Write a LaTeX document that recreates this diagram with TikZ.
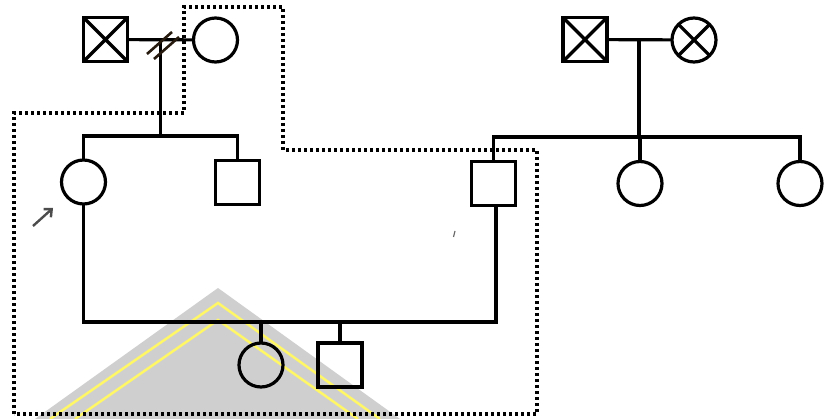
\documentclass[tikz,border=0pt]{standalone}
\usetikzlibrary{arrows.meta}
\begin{document}
\begin{tikzpicture}[x=1pt,y=-1pt,
  line/.style={line width=3.2pt, line cap=rect},
  male/.style={draw, line width=3.2pt, minimum size=44pt, inner sep=0pt},
  female/.style={draw, circle, line width=3.2pt, minimum size=44pt, inner sep=0pt},
  dead/.style={path picture={\draw[line width=3.2pt] (path picture bounding box.north west) -- (path picture bounding box.south east) (path picture bounding box.north east) -- (path picture bounding box.south west);}},
  deadc/.style={path picture={\draw[line width=3.2pt] ([shift={(-135:22.5pt)}]path picture bounding box.center) -- ([shift={(45:22.5pt)}]path picture bounding box.center) ([shift={(135:22.5pt)}]path picture bounding box.center) -- ([shift={(-45:22.5pt)}]path picture bounding box.center);}},
  dotline/.style={line width=3.2pt, dash pattern=on 3pt off 3pt},
]
\useasboundingbox (0,0) rectangle (827,419);
\fill[white] (0,0) rectangle (827,419);
% watermark
\fill[gray!38] (218,288) -- (400,419) -- (35,419) -- cycle;
\begin{scope}[yellow!60!white, line width=2.5pt]
\draw (50,419) -- (218,303) -- (380,419);
\draw (75,419) -- (218,320) -- (358,419);
\end{scope}
% generation I
\node[male,dead] (gf1) at (105.5,39.5) {};
\node[female] (gm1) at (215.5,40) {};
\node[male,dead] (gf2) at (585,39.5) {};
\node[female,deadc] (gm2) at (694,40) {};
\coordinate (m1) at (160.5,40);
\coordinate (m2) at (639,40);
% generation II
\node[female] (mo) at (83.5,182) {};
\node[male] (un) at (237.5,182.5) {};
\node[male] (fa) at (493.5,183.5) {};
\node[female] (au1) at (640,183.5) {};
\node[female] (au2) at (800,183.5) {};
% generation III
\node[female] (c1) at (261,365) {};
\node[male] (c2) at (340,365) {};
% connectors
\draw[line] (gf1) -- (gm1);
\draw[line] (gf2) -- (gm2);
\coordinate (s1) at (160.5,136);
\draw[line] (m1) -- (s1);
\draw[line] (mo.north |- s1) -- (un.north |- s1);
\draw[line] (mo.north |- s1) -- (mo.north);
\draw[line] (un.north |- s1) -- (un.north);
\coordinate (s2) at (639,137);
\draw[line] (m2) -- (s2);
\draw[line] (fa.north |- s2) -- (au2.north |- s2);
\draw[line] (fa.north |- s2) -- (fa.north);
\draw[line] (au1.north |- s2) -- (au1.north);
\draw[line] (au2.north |- s2) -- (au2.north);
\coordinate (cl) at (83.5,322);
\coordinate (cr) at (496,322);
\draw[line] (mo.south) -- (cl) -- (cr) -- (cr |- fa.south);
\draw[line] (c1.north |- cl) -- (c1.north);
\draw[line] (c2.north |- cl) -- (c2.north);
% divorce marks
\draw[line width=2.6pt, black!80!brown] (147,54) -- (172,32) (154,59) -- (179,37);
% dotted boundary
\draw[dotline] (14,414) -- (14,113) -- (184,113) -- (184,7) -- (283,7) -- (283,150) -- (537,150) -- (537,414) -- cycle;
% proband arrow
\draw[line width=2.4pt, black!70, -{Straight Barb[length=6pt,width=11pt]}] (33,226) -- (53,208);
% small tick
\draw[line width=1.2pt, black!60] (453.5,237) -- (455,231);
\end{tikzpicture}
\end{document}
